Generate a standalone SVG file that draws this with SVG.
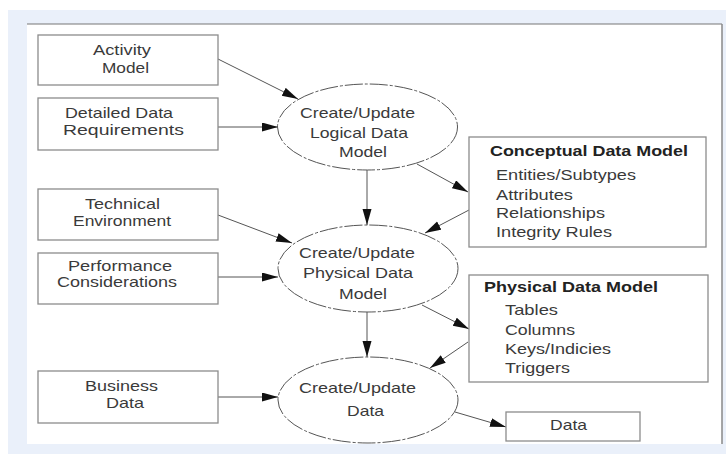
<svg xmlns="http://www.w3.org/2000/svg" width="726" height="454" viewBox="0 0 726 454">
<style>
.box{fill:#fff;stroke:#8c8c8c;stroke-width:1.3}
.ell{fill:#fff;stroke:#555;stroke-width:1;stroke-dasharray:18 2 3 2}
.t{font-family:"Liberation Sans",Arial,sans-serif;font-size:15px;fill:#3a3a3a}
.b{font-weight:bold;fill:#222}
.c{fill:none;stroke:#555;stroke-width:1}
</style>
<defs>
<marker id="ah" markerUnits="userSpaceOnUse" markerWidth="17" markerHeight="10" refX="16" refY="4.5" orient="auto" viewBox="0 0 17 10">
<path d="M0,0 L16,4.5 L0,9 z" fill="#111"/>
</marker>
</defs>
<rect x="0" y="0" width="726" height="454" fill="#fff"/>
<rect x="8" y="10" width="718" height="444" fill="#eaf0fa"/>
<rect x="27" y="24" width="695" height="420" fill="#fff"/>
<line x1="27" y1="24" x2="722" y2="24" stroke="#777" stroke-width="1"/>
<line x1="722" y1="24" x2="722" y2="444" stroke="#888" stroke-width="1.5"/>

<g id="connectors">
<line class="c" x1="218" y1="59" x2="298" y2="99" marker-end="url(#ah)"/>
<line class="c" x1="218" y1="127" x2="278" y2="127" marker-end="url(#ah)"/>
<line class="c" x1="367" y1="170" x2="367" y2="225" marker-end="url(#ah)"/>
<line class="c" x1="417" y1="164" x2="468" y2="192" marker-end="url(#ah)"/>
<line class="c" x1="469" y1="210" x2="425" y2="233" marker-end="url(#ah)"/>
<line class="c" x1="218" y1="215" x2="292" y2="243" marker-end="url(#ah)"/>
<line class="c" x1="218" y1="277" x2="278" y2="277" marker-end="url(#ah)"/>
<line class="c" x1="367" y1="312" x2="367" y2="357" marker-end="url(#ah)"/>
<line class="c" x1="422" y1="305" x2="469" y2="329" marker-end="url(#ah)"/>
<line class="c" x1="468" y1="342" x2="430" y2="368" marker-end="url(#ah)"/>
<line class="c" x1="218" y1="397" x2="278" y2="397" marker-end="url(#ah)"/>
<line class="c" x1="455" y1="412" x2="506" y2="427" marker-end="url(#ah)"/>
</g>

<g id="activity-model">
<rect class="box" x="38" y="35" width="180" height="50"/>
<text class="t" x="93" y="55" textLength="58" lengthAdjust="spacingAndGlyphs">Activity</text>
<text class="t" x="102" y="73" textLength="47" lengthAdjust="spacingAndGlyphs">Model</text>
</g>
<g id="detailed-data-requirements">
<rect class="box" x="38" y="98" width="180" height="52"/>
<text class="t" x="65" y="118" textLength="108" lengthAdjust="spacingAndGlyphs">Detailed Data</text>
<text class="t" x="63" y="135" textLength="121" lengthAdjust="spacingAndGlyphs">Requirements</text>
</g>
<g id="technical-environment">
<rect class="box" x="38" y="189" width="180" height="51"/>
<text class="t" x="85" y="209" textLength="75" lengthAdjust="spacingAndGlyphs">Technical</text>
<text class="t" x="73" y="226" textLength="98" lengthAdjust="spacingAndGlyphs">Environment</text>
</g>
<g id="performance-considerations">
<rect class="box" x="38" y="253" width="180" height="51"/>
<text class="t" x="68" y="271" textLength="104" lengthAdjust="spacingAndGlyphs">Performance</text>
<text class="t" x="57" y="287" textLength="120" lengthAdjust="spacingAndGlyphs">Considerations</text>
</g>
<g id="business-data">
<rect class="box" x="38" y="371" width="180" height="52"/>
<text class="t" x="85" y="391" textLength="73" lengthAdjust="spacingAndGlyphs">Business</text>
<text class="t" x="106" y="408" textLength="38" lengthAdjust="spacingAndGlyphs">Data</text>
</g>

<g id="create-logical">
<ellipse class="ell" cx="367.5" cy="127" rx="90" ry="43"/>
<text class="t" x="300" y="118" textLength="115" lengthAdjust="spacingAndGlyphs">Create/Update</text>
<text class="t" x="310" y="138" textLength="98" lengthAdjust="spacingAndGlyphs">Logical Data</text>
<text class="t" x="339" y="157" textLength="48" lengthAdjust="spacingAndGlyphs">Model</text>
</g>
<g id="create-physical">
<ellipse class="ell" cx="368" cy="268.5" rx="90" ry="43.5"/>
<text class="t" x="299" y="258" textLength="116" lengthAdjust="spacingAndGlyphs">Create/Update</text>
<text class="t" x="303" y="278" textLength="110" lengthAdjust="spacingAndGlyphs">Physical Data</text>
<text class="t" x="339" y="299" textLength="48" lengthAdjust="spacingAndGlyphs">Model</text>
</g>
<g id="create-data">
<ellipse class="ell" cx="368" cy="400" rx="90" ry="43"/>
<text class="t" x="299" y="393" textLength="117" lengthAdjust="spacingAndGlyphs">Create/Update</text>
<text class="t" x="347" y="416" textLength="37" lengthAdjust="spacingAndGlyphs">Data</text>
</g>

<g id="conceptual-data-model">
<rect class="box" x="469" y="137" width="237" height="110"/>
<text class="t b" x="490" y="156" textLength="198" lengthAdjust="spacingAndGlyphs">Conceptual Data Model</text>
<text class="t" x="496" y="180" textLength="140" lengthAdjust="spacingAndGlyphs">Entities/Subtypes</text>
<text class="t" x="496" y="200" textLength="77" lengthAdjust="spacingAndGlyphs">Attributes</text>
<text class="t" x="496" y="218" textLength="109" lengthAdjust="spacingAndGlyphs">Relationships</text>
<text class="t" x="496" y="237" textLength="116" lengthAdjust="spacingAndGlyphs">Integrity Rules</text>
</g>
<g id="physical-data-model">
<rect class="box" x="469" y="275" width="239" height="107"/>
<text class="t b" x="484" y="292" textLength="174" lengthAdjust="spacingAndGlyphs">Physical Data Model</text>
<text class="t" x="505" y="315" textLength="53" lengthAdjust="spacingAndGlyphs">Tables</text>
<text class="t" x="505" y="335" textLength="70" lengthAdjust="spacingAndGlyphs">Columns</text>
<text class="t" x="505" y="354" textLength="106" lengthAdjust="spacingAndGlyphs">Keys/Indicies</text>
<text class="t" x="505" y="373" textLength="65" lengthAdjust="spacingAndGlyphs">Triggers</text>
</g>
<g id="data">
<rect class="box" x="506" y="412" width="134" height="29"/>
<text class="t" x="550" y="430" textLength="37" lengthAdjust="spacingAndGlyphs">Data</text>
</g>
</svg>
